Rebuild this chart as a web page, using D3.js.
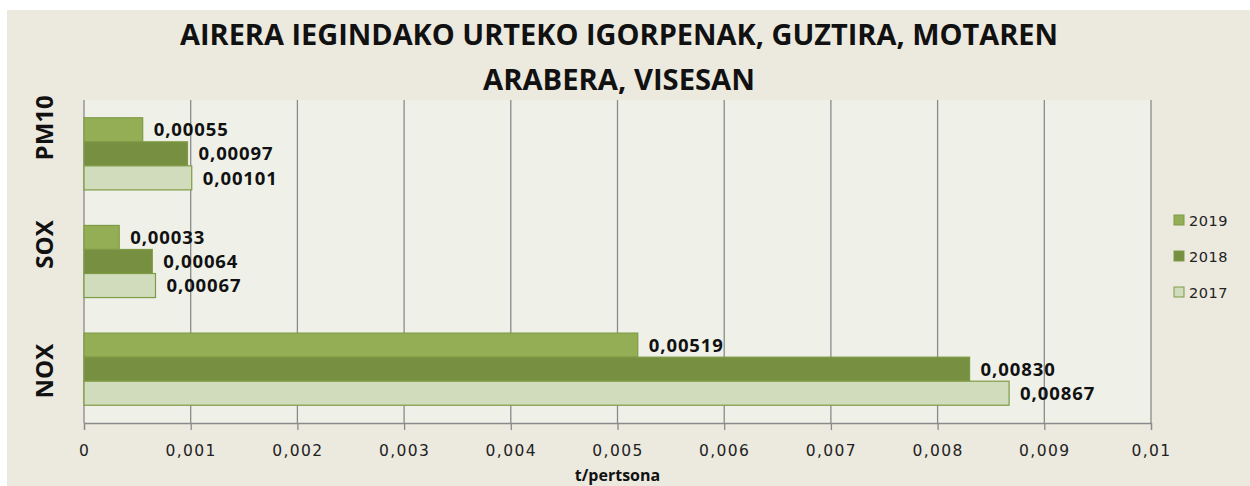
<!DOCTYPE html>
<html>
<head>
<meta charset="utf-8">
<script src="https://cdn.jsdelivr.net/npm/d3@7"></script>
<style>
  html, body { margin: 0; padding: 0; background: #fff; }
  svg { display: block; }
</style>
</head>
<body>
<script>
// Data
var categories = ["PM10", "SOX", "NOX"];
var years      = ["2019", "2018", "2017"];
var values2019 = [0.00055, 0.00033, 0.00519];
var values2018 = [0.00097, 0.00064, 0.00830];
var values2017 = [0.00101, 0.00067, 0.00867];
var xTicks     = [0, 0.001, 0.002, 0.003, 0.004, 0.005, 0.006, 0.007, 0.008, 0.009, 0.01];
var titleLines = ["AIRERA IEGINDAKO URTEKO IGORPENAK, GUZTIRA, MOTAREN", "ARABERA, VISESAN"];
var xTitle     = "t/pertsona";

var series = {"2019": values2019, "2018": values2018, "2017": values2017};

// Layout
var W = 1250, H = 486;
var plot = {left: 84, right: 1151, top: 100, bottom: 423};
var colors = {"2019": "#93ae55", "2018": "#778f41", "2017": "#d0dcbc"};
var stroke = "#7f9b45";

var locale = d3.formatLocale({decimal: ",", thousands: ".", grouping: [3], currency: ["", "€"]});
var fmtLabel = locale.format(".5f");
var fmtTick  = locale.format(".3~f");

var svg = d3.select("body").append("svg").attr("width", W).attr("height", H);

// Backgrounds
svg.append("rect").attr("x", 7).attr("y", 10).attr("width", W - 7).attr("height", H - 10).attr("fill", "#ece9df");
svg.append("rect").attr("x", plot.left).attr("y", plot.top)
  .attr("width", plot.right - plot.left).attr("height", plot.bottom - plot.top).attr("fill", "#eff1e9");

// Scales
var x = d3.scaleLinear().domain([0, 0.01]).range([plot.left, plot.right]);
var y = d3.scaleBand().domain(categories).range([plot.top, plot.bottom]).paddingInner(0.33).paddingOuter(0.165);
var yInner = d3.scaleBand().domain(years).range([0, y.bandwidth()]);

// Grid
svg.append("g").selectAll("line").data(xTicks).join("line")
  .attr("x1", function(d){ return x(d); }).attr("x2", function(d){ return x(d); })
  .attr("y1", plot.top).attr("y2", plot.bottom)
  .attr("stroke", "#8a8a8a").attr("stroke-width", 1.3);

// X axis
var xAxis = d3.axisBottom(x).tickValues(xTicks).tickFormat(fmtTick).tickSize(7).tickPadding(15);
var gx = svg.append("g").attr("transform", "translate(0," + plot.bottom + ")").call(xAxis)
  .attr("font-family", "'DejaVu Sans', Verdana, sans-serif").attr("font-size", 15.5);
gx.select(".domain").attr("stroke", "#8a8a8a").attr("stroke-width", 1.3);
gx.selectAll(".tick line").attr("stroke", "#8a8a8a").attr("stroke-width", 1.3);
gx.selectAll(".tick text").attr("fill", "#222").attr("letter-spacing", 1.4);

svg.append("text").attr("x", x(0.005)).attr("y", 481).attr("text-anchor", "middle")
  .attr("font-family", "'Open Sans', sans-serif").attr("font-weight", "bold").attr("font-size", 16)
  .attr("fill", "#111").text(xTitle);

// Category labels
var labelNudge = [-26, -17, 2];
svg.append("g").selectAll("text").data(categories).join("text")
  .attr("transform", function(d, i){
    return "translate(53," + (y(d) + y.bandwidth() / 2 + labelNudge[i]) + ") rotate(-90)";
  })
  .attr("text-anchor", "middle")
  .attr("font-family", "'Open Sans', sans-serif").attr("font-weight", "bold").attr("font-size", 24)
  .attr("fill", "#111").text(function(d){ return d; });

// Bars
var flat = [];
categories.forEach(function(c, i){
  years.forEach(function(yr){ flat.push({cat: c, year: yr, value: series[yr][i]}); });
});

var bars = svg.append("g");
bars.selectAll("rect").data(flat).join("rect")
  .attr("x", x(0))
  .attr("y", function(d){ return y(d.cat) + yInner(d.year); })
  .attr("width", function(d){ return x(d.value) - x(0); })
  .attr("height", yInner.bandwidth())
  .attr("fill", function(d){ return colors[d.year]; })
  .attr("stroke", stroke).attr("stroke-width", 1.2);

bars.selectAll("text").data(flat).join("text")
  .attr("x", function(d){ return x(d.value) + 11; })
  .attr("y", function(d){ return y(d.cat) + yInner(d.year) + yInner.bandwidth() / 2; })
  .attr("dy", "0.36em")
  .attr("font-family", "'Open Sans', sans-serif").attr("font-weight", "bold").attr("font-size", 18.5)
  .attr("letter-spacing", 0.9)
  .attr("fill", "#111").text(function(d){ return fmtLabel(d.value); });

// Legend
var legend = svg.append("g").selectAll("g").data(years).join("g")
  .attr("transform", function(d, i){ return "translate(1174," + (215 + i * 36) + ")"; });
legend.append("rect").attr("width", 10).attr("height", 10)
  .attr("fill", function(d){ return colors[d]; }).attr("stroke", stroke).attr("stroke-width", 1);
legend.append("text").attr("x", 15).attr("y", 11)
  .attr("font-family", "'DejaVu Sans', Verdana, sans-serif").attr("font-size", 14.5)
  .attr("letter-spacing", 0.5)
  .attr("fill", "#222").text(function(d){ return d; });

// Title
var titleWidths = [878, 272];
svg.append("g").selectAll("text").data(titleLines).join("text")
  .attr("x", 619).attr("y", function(d, i){ return 45 + i * 45; })
  .attr("text-anchor", "middle")
  .attr("textLength", function(d, i){ return titleWidths[i]; })
  .attr("lengthAdjust", "spacingAndGlyphs")
  .attr("font-family", "'Open Sans', sans-serif").attr("font-weight", "bold").attr("font-size", 29)
  .attr("fill", "#111").text(function(d){ return d; });
</script>
</body>
</html>
